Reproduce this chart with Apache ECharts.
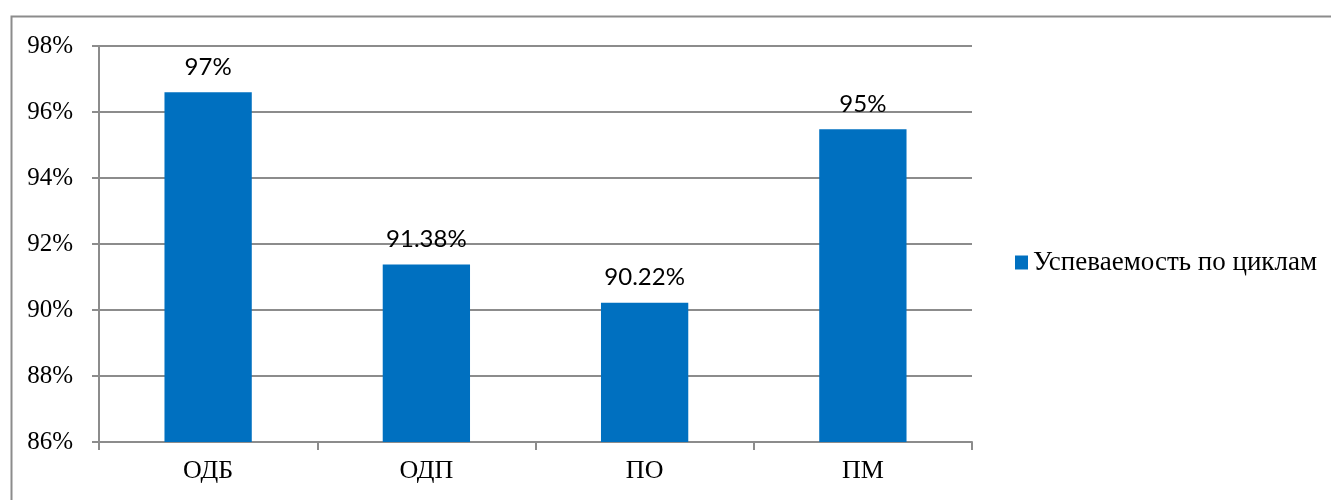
<!DOCTYPE html>
<html><head><meta charset="utf-8">
<script src="https://cdn.jsdelivr.net/npm/echarts@6/dist/echarts.min.js"></script>
<style>html,body{margin:0;padding:0;background:#fff}#c{width:1331px;height:500px}</style>
</head><body><div id="c"></div>
<script>
const categories = ['ОДБ', 'ОДП', 'ПО', 'ПМ'];
const values = [96.6, 91.38, 90.22, 95.48];
const valueLabels = ['97%', '91.38%', '90.22%', '95%'];
const seriesName = 'Успеваемость по циклам';
const yMin = 86, yMax = 98, yStep = 2;

const SERIF = 'Liberation Serif';
const SANS = 'Lato';
const option = {
  animation: false,
  backgroundColor: '#fff',
  textStyle: {fontFamily: SERIF, fontSize: 25, color: '#000'},
  graphic: [{
    type: 'polyline', silent: true,
    shape: {points: [[11.5, 500], [11.5, 16.5], [1331, 16.5]]},
    style: {stroke: '#8c8c8c', lineWidth: 2, fill: null}
  }],
  grid: {left: 99, right: 359, top: 46, bottom: 58, containLabel: false},
  legend: {
    data: [seriesName], left: 1010, top: 244, orient: 'vertical',
    icon: 'rect', itemWidth: 13, itemHeight: 14, itemGap: 4,
    textStyle: {fontFamily: SERIF, fontSize: 27, color: '#000'}
  },
  xAxis: {
    type: 'category', data: categories,
    axisLine: {lineStyle: {color: '#8c8c8c', width: 2}},
    axisTick: {show: true, length: 8, interval: 0, alignWithLabel: false, lineStyle: {color: '#8c8c8c', width: 2}},
    axisLabel: {fontFamily: SERIF, fontSize: 26, color: '#000', margin: 16}
  },
  yAxis: {
    type: 'value', min: yMin, max: yMax, interval: yStep,
    axisLine: {show: true, lineStyle: {color: '#8c8c8c', width: 2}},
    axisTick: {show: true, length: 7, lineStyle: {color: '#8c8c8c', width: 2}},
    splitLine: {lineStyle: {color: '#8c8c8c', width: 2}},
    axisLabel: {fontFamily: SERIF, fontSize: 25, color: '#000', margin: 26,
      formatter: v => v + '%'}
  },
  series: [{
    name: seriesName, type: 'bar', data: values, barWidth: '40%',
    itemStyle: {color: '#0070C0'},
    label: {show: true, position: 'top', distance: 13,
      fontFamily: SANS, fontSize: 24, color: '#000',
      formatter: p => valueLabels[p.dataIndex]}
  }]
};
const chart = echarts.init(document.getElementById('c'), null, {renderer: 'canvas'});
chart.setOption(option);
</script></body></html>
